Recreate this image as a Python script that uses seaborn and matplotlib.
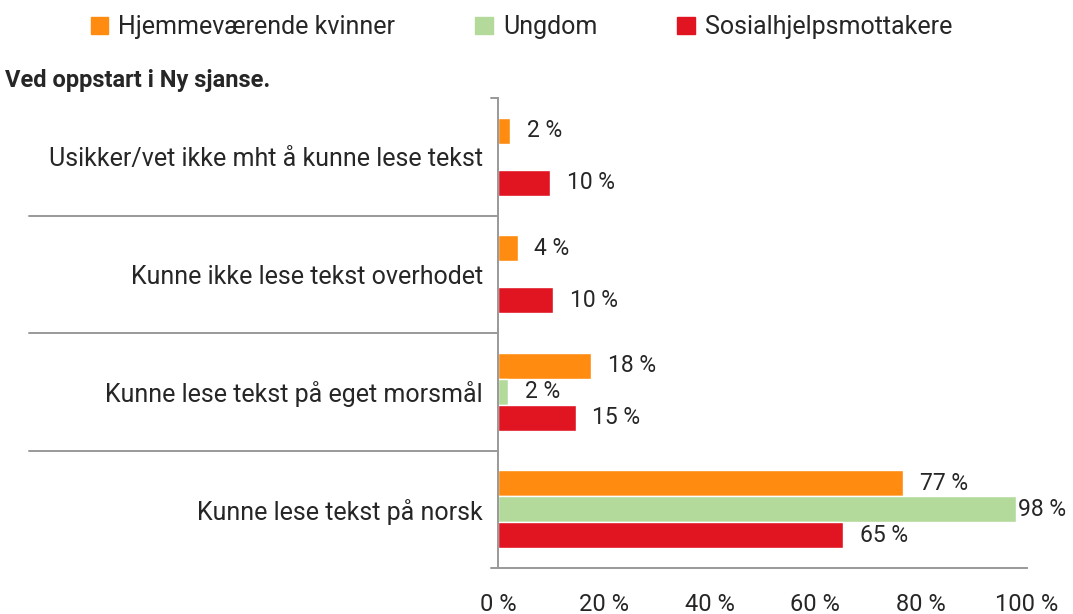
import numpy as np
import pandas as pd
import matplotlib
matplotlib.use('Agg')
import matplotlib.pyplot as plt
import matplotlib.transforms as mtransforms
from matplotlib.patches import Patch
import seaborn as sns

# data
categories = ['Usikker/vet ikke mht å kunne lese tekst',
              'Kunne ikke lese tekst overhodet',
              'Kunne lese tekst på eget morsmål',
              'Kunne lese tekst på norsk']
groups = ['Hjemmeværende kvinner', 'Ungdom', 'Sosialhjelpsmottakere']
hjemme = [2.3, 3.7, 17.6, 76.6]
ungdom = [np.nan, np.nan, 1.95, 97.9]
sosial = [9.8, 10.4, 14.7, 65.3]
colors = ['#FF8C10', '#B3DA9B', '#E11422']
xticks = [0, 20, 40, 60, 80, 100]

sns.set_style('white')
plt.rcParams['font.family'] = ['Roboto', 'DejaVu Sans']

rows = []
for g, vals in zip(groups, [hjemme, ungdom, sosial]):
    for c, v in zip(categories, vals):
        rows.append({'kategori': c, 'gruppe': g, 'verdi': v})
df = pd.DataFrame(rows).dropna()

fig = plt.figure(figsize=(10.73, 6.14), dpi=100)
ax = fig.add_axes([498/1073, 1-568/614, 529/1073, 470/614])

sns.barplot(data=df, x='verdi', y='kategori', hue='gruppe', order=categories,
            hue_order=groups, palette=colors, width=0.664, orient='h',
            saturation=1, errorbar=None, legend=False, ax=ax)

ax.set_xlim(0, 100)
ax.set_ylim(3.5, -0.5)
ax.set_xlabel('')
ax.set_ylabel('')
ax.set_xticks(xticks)
ax.set_xticklabels([f'{t} %' for t in xticks], fontsize=17)
ax.tick_params(axis='x', length=7, width=1.2, color='#999999', pad=11)
ax.tick_params(axis='y', length=0, pad=11, labelsize=18)
for s in ['top', 'right']:
    ax.spines[s].set_visible(False)
for s in ['left', 'bottom']:
    ax.spines[s].set_color('#999999')
    ax.spines[s].set_linewidth(1.4)

# category separators extending to the left
trans = mtransforms.blended_transform_factory(ax.transAxes, ax.transData)
for y in [0.5, 1.5, 2.5]:
    ax.plot([-0.886, 0], [y, y], transform=trans, color='#999999', lw=1.4, clip_on=False)
for y in [-0.5, 3.5]:
    ax.plot([-0.013, 0], [y, y], transform=trans, color='#999999', lw=1.4, clip_on=False)

# value labels
for bar in ax.patches:
    w = bar.get_width()
    if np.isnan(w) or bar.get_height() == 0:
        continue
    pad = 1.5 if w > 95 else 12
    ax.annotate(f'{w:.0f} %', (w, bar.get_y() + bar.get_height() / 2),
                xytext=(pad, 0), textcoords='offset points',
                ha='left', va='center', fontsize=16.5, clip_on=False)

fig.text(5/1073, 1-80/614, 'Ved oppstart i Ny sjanse.', fontsize=17,
         fontweight='bold', va='center', ha='left')

handles = [Patch(color=c) for c in colors]
fig.legend(handles, groups, loc='center', bbox_to_anchor=(0.486, 1-27/614),
           ncol=3, frameon=False, fontsize=18, handlelength=0.7, handleheight=0.7,
           handletextpad=0.4, columnspacing=3.2)

fig.savefig('out.png', dpi=100)
